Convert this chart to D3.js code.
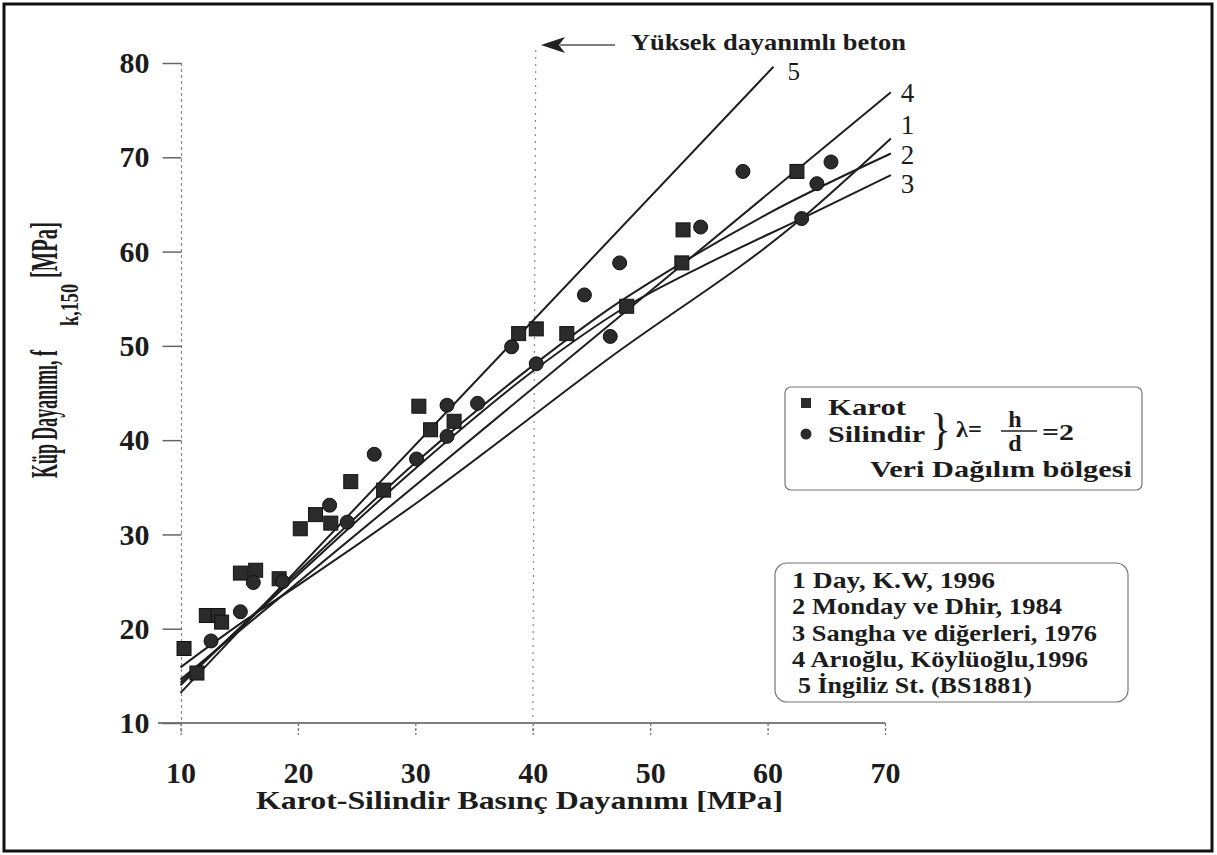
<!DOCTYPE html>
<html>
<head>
<meta charset="utf-8">
<script src="https://cdn.jsdelivr.net/npm/d3@7"></script>
<style>
  body { margin: 0; background: #fff; }
  svg { display: block; }
  text { font-family: "Liberation Serif", "Times New Roman", Tinos, "Nimbus Roman", serif; fill: #1c1c1c; }
</style>
</head>
<body>
<script>
const xTicks = [10, 20, 30, 40, 50, 60, 70];
const yTicks = [10, 20, 30, 40, 50, 60, 70, 80];

// Karot (squares) and Silindir (circles), MPa
const karot = [
  [10.3, 17.9], [11.4, 15.3], [12.2, 21.4], [13.2, 21.4], [13.5, 20.7],
  [15.1, 25.9], [16.4, 26.2], [18.4, 25.3], [20.2, 30.6], [21.5, 32.1],
  [22.8, 31.2], [24.5, 35.6], [27.3, 34.7], [30.3, 43.6], [31.3, 41.1],
  [33.3, 42.0], [38.8, 51.3], [40.3, 51.8], [42.9, 51.3], [48.0, 54.2],
  [52.7, 58.8], [52.8, 62.3], [62.5, 68.5]
];
const silindir = [
  [12.6, 18.7], [15.1, 21.8], [16.2, 24.9], [18.7, 25.0], [22.7, 33.1],
  [24.2, 31.3], [26.5, 38.5], [30.1, 38.0], [32.7, 43.7], [32.7, 40.4],
  [35.3, 43.9], [38.2, 49.9], [40.3, 48.1], [44.4, 55.4], [46.6, 51.0],
  [47.4, 58.8], [54.3, 62.6], [57.9, 68.5], [62.9, 63.5], [64.2, 67.2],
  [65.4, 69.5]
];

// relationship curves
const dayKW = [[10, 15.9], [15.4, 20.8], [20, 24.6], [30.4, 33.6], [46.3, 48.5], [62.9, 63.5], [70.5, 72.0]];
const mondayDhir = [[10, 14.0], [20, 26.0], [30, 37.6], [40, 47.9], [46.6, 54.0], [52.7, 58.8], [60, 64.0], [70.5, 70.4]];
const sangha = [[10, 14.3], [20, 25.7], [30, 37.0], [40, 47.3], [48, 54.2], [56, 59.4], [62.9, 63.5], [70.5, 68.1]];
const arioglu = [[10, 14.6], [70.5, 76.9]];
const bs1881 = [[10, 13.2], [60.5, 79.6]];

const curveIds = ["1", "2", "3", "4", "5"];
const curveData = [dayKW, mondayDhir, sangha, arioglu, bs1881];

const refNames = [
  "1  Day, K.W, 1996",
  "2 Monday ve Dhir, 1984",
  "3 Sangha ve diğerleri, 1976",
  "4 Arıoğlu, Köylüoğlu,1996",
  "5 İngiliz St. (BS1881)"
];

const width = 1217, height = 855;

const x = d3.scaleLinear().domain([10, 70]).range([180.5, 885]);
const y = d3.scaleLinear().domain([10, 80]).range([723, 63]);

const svg = d3.select("body").append("svg")
  .attr("width", width)
  .attr("height", height);

// outer frame
svg.append("rect")
  .attr("x", 4).attr("y", 4)
  .attr("width", width - 9).attr("height", height - 8)
  .attr("fill", "none")
  .attr("stroke", "#111")
  .attr("stroke-width", 3);

// dotted y axis line at x = 10
svg.append("line")
  .attr("x1", x(10) + 1).attr("x2", x(10) + 1)
  .attr("y1", y(80)).attr("y2", 735)
  .attr("stroke", "#888").attr("stroke-width", 1.2)
  .attr("stroke-dasharray", "3,3");

// base line at y = 10
svg.append("line")
  .attr("x1", 158).attr("x2", x(70))
  .attr("y1", y(10)).attr("y2", y(10))
  .attr("stroke", "#555").attr("stroke-width", 1.6);

// high strength marker line at x = 40
svg.append("line")
  .attr("x1", x(40) + 3).attr("x2", x(40))
  .attr("y1", 50).attr("y2", 735)
  .attr("stroke", "#888").attr("stroke-width", 1.2)
  .attr("stroke-dasharray", "2,5");

const yAxis = svg.append("g")
  .attr("transform", `translate(${x(10) + 1},0)`)
  .call(d3.axisLeft(y).tickValues(yTicks).tickSize(19).tickPadding(13));
yAxis.select(".domain").remove();
yAxis.selectAll(".tick line").attr("stroke", "#666").attr("stroke-width", 1.5);
yAxis.selectAll(".tick text")
  .attr("font-size", 30).attr("font-weight", "bold")
  .attr("fill", "#222");

const xAxis = svg.append("g")
  .attr("transform", `translate(0,${y(10)})`)
  .call(d3.axisBottom(x).tickValues(xTicks).tickSize(12).tickPadding(0));
xAxis.select(".domain").remove();
xAxis.selectAll(".tick line")
  .attr("stroke", "#777").attr("stroke-width", 1.3)
  .attr("stroke-dasharray", "3,2");
xAxis.selectAll(".tick text")
  .attr("font-size", 30).attr("font-weight", "bold")
  .attr("fill", "#222")
  .attr("y", 60).attr("dy", null);

// curves
const lineGen = d3.line()
  .x(d => x(d[0]))
  .y(d => y(d[1]))
  .curve(d3.curveMonotoneX);

svg.append("g")
  .selectAll("path")
  .data(curveData)
  .join("path")
  .attr("d", lineGen)
  .attr("fill", "none")
  .attr("stroke", "#1e1e1e")
  .attr("stroke-width", 2);

// curve numbers at line ends
svg.append("g")
  .selectAll("text")
  .data(curveData)
  .join("text")
  .attr("x", (d, i) => x(d[d.length - 1][0]) + (i === 4 ? 14 : 10))
  .attr("y", (d, i) => y(d[d.length - 1][1]) + [-4, 10, 18, 10, 13][i])
  .attr("font-size", (d, i) => i === 4 ? 25 : 27)
  .text((d, i) => curveIds[i]);

// data points
svg.append("g")
  .selectAll("rect")
  .data(karot)
  .join("rect")
  .attr("x", d => x(d[0]) - 7)
  .attr("y", d => y(d[1]) - 7)
  .attr("width", 14).attr("height", 14)
  .attr("fill", "#2b2b2b")
  .attr("stroke", "#111").attr("stroke-width", 1);

svg.append("g")
  .selectAll("circle")
  .data(silindir)
  .join("circle")
  .attr("cx", d => x(d[0]))
  .attr("cy", d => y(d[1]))
  .attr("r", 7)
  .attr("fill", "#2b2b2b")
  .attr("stroke", "#111").attr("stroke-width", 1);

// arrow + note
svg.append("line")
  .attr("x1", 615).attr("x2", 560)
  .attr("y1", 45).attr("y2", 45)
  .attr("stroke", "#555").attr("stroke-width", 1.5);
svg.append("path")
  .attr("d", "M541,45 L565,37 L559,45 L565,53 Z")
  .attr("fill", "#222");
svg.append("text")
  .attr("x", 631).attr("y", 50)
  .attr("font-size", 23).attr("font-weight", "bold")
  .attr("textLength", 275).attr("lengthAdjust", "spacingAndGlyphs")
  .text("Yüksek dayanımlı beton");

// axis titles
svg.append("text")
  .attr("x", 256).attr("y", 809)
  .attr("font-size", 25).attr("font-weight", "bold")
  .attr("textLength", 527).attr("lengthAdjust", "spacingAndGlyphs")
  .text("Karot-Silindir Basınç Dayanımı  [MPa]");

const yTitle = svg.append("g");
yTitle.append("text")
  .attr("transform", "translate(57,478) scale(1.5,1) rotate(-90)")
  .attr("font-size", 25).attr("font-weight", "bold")
  .attr("textLength", 128).attr("lengthAdjust", "spacingAndGlyphs")
  .text("Küp Dayanımı, f");
yTitle.append("text")
  .attr("transform", "translate(78,326) scale(1.5,1) rotate(-90)")
  .attr("font-size", 17).attr("font-weight", "bold")
  .attr("textLength", 42).attr("lengthAdjust", "spacingAndGlyphs")
  .text("k,150");
yTitle.append("text")
  .attr("transform", "translate(57,278) scale(1.5,1) rotate(-90)")
  .attr("font-size", 25).attr("font-weight", "bold")
  .attr("textLength", 56).attr("lengthAdjust", "spacingAndGlyphs")
  .text("[MPa]");

// legend: symbols
const leg1 = svg.append("g");
leg1.append("rect")
  .attr("x", 785).attr("y", 387).attr("width", 357).attr("height", 103)
  .attr("rx", 6)
  .attr("fill", "none").attr("stroke", "#777").attr("stroke-width", 1.2);
leg1.append("rect")
  .attr("x", 801).attr("y", 398).attr("width", 10).attr("height", 10)
  .attr("fill", "#2b2b2b");
leg1.append("circle")
  .attr("cx", 806).attr("cy", 434).attr("r", 5.5)
  .attr("fill", "#2b2b2b");
leg1.append("text")
  .attr("x", 828).attr("y", 415)
  .attr("font-size", 24).attr("font-weight", "bold")
  .attr("textLength", 78).attr("lengthAdjust", "spacingAndGlyphs")
  .text("Karot");
leg1.append("text")
  .attr("x", 828).attr("y", 442)
  .attr("font-size", 24).attr("font-weight", "bold")
  .attr("textLength", 97).attr("lengthAdjust", "spacingAndGlyphs")
  .text("Silindir");
leg1.append("text")
  .attr("x", 930).attr("y", 444)
  .attr("font-size", 44)
  .text("}");
leg1.append("text")
  .attr("x", 956).attr("y", 437)
  .attr("font-size", 24).attr("font-weight", "bold")
  .attr("textLength", 26).attr("lengthAdjust", "spacingAndGlyphs")
  .text("λ=");
leg1.append("text")
  .attr("x", 1015).attr("y", 427)
  .attr("text-anchor", "middle")
  .attr("font-size", 24).attr("font-weight", "bold")
  .text("h");
leg1.append("line")
  .attr("x1", 1001).attr("x2", 1037)
  .attr("y1", 431).attr("y2", 431)
  .attr("stroke", "#222").attr("stroke-width", 1.5);
leg1.append("text")
  .attr("x", 1015).attr("y", 451)
  .attr("text-anchor", "middle")
  .attr("font-size", 24).attr("font-weight", "bold")
  .text("d");
leg1.append("text")
  .attr("x", 1042).attr("y", 440)
  .attr("font-size", 24).attr("font-weight", "bold")
  .attr("textLength", 32).attr("lengthAdjust", "spacingAndGlyphs")
  .text("=2");
leg1.append("text")
  .attr("x", 870).attr("y", 477)
  .attr("font-size", 24).attr("font-weight", "bold")
  .attr("textLength", 262).attr("lengthAdjust", "spacingAndGlyphs")
  .text("Veri Dağılım bölgesi");

// legend: references
const refLengths = [203, 270, 305, 296, 234];
const leg2 = svg.append("g");
leg2.append("rect")
  .attr("x", 775).attr("y", 563).attr("width", 353).attr("height", 139)
  .attr("rx", 12)
  .attr("fill", "none").attr("stroke", "#777").attr("stroke-width", 1.2);
leg2.selectAll("text")
  .data(refNames)
  .join("text")
  .attr("x", (d, i) => i === 4 ? 798 : 792)
  .attr("y", (d, i) => 588 + i * 26.3)
  .attr("font-size", 23).attr("font-weight", "bold")
  .attr("textLength", (d, i) => refLengths[i])
  .attr("lengthAdjust", "spacingAndGlyphs")
  .text(d => d);
</script>
</body>
</html>
